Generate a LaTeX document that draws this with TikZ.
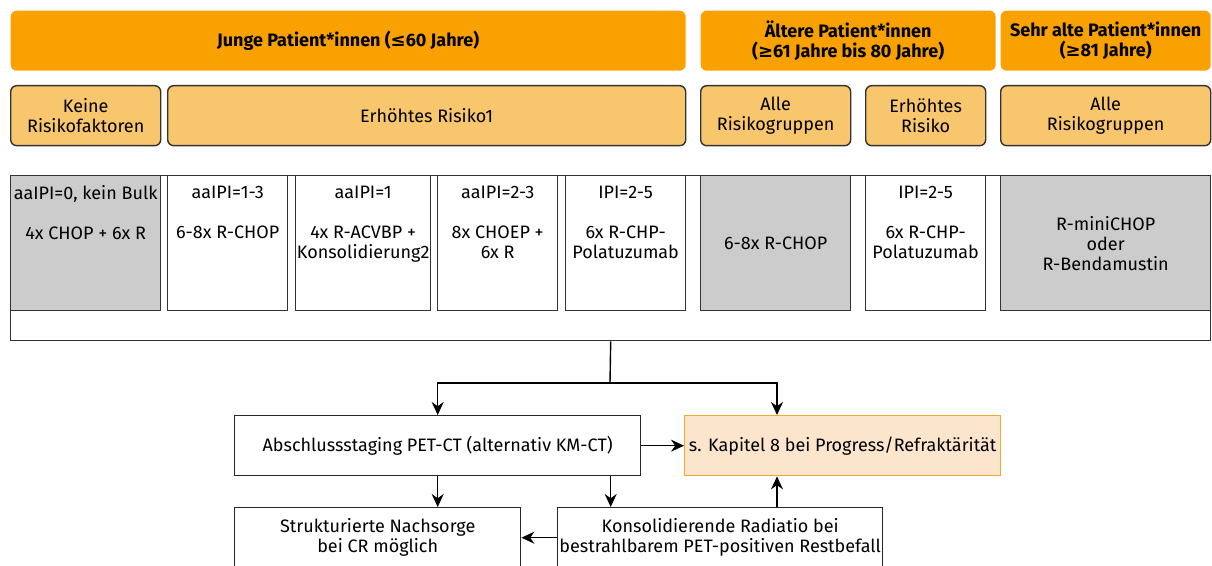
\documentclass[tikz,border=0pt]{standalone}
\usepackage{fontspec}
\setmainfont{Fira Sans}
\newfontfamily\symfont{DejaVu Sans}
\usepackage{tikz}
\usetikzlibrary{arrows.meta, positioning}

\definecolor{ageorange}{RGB}{248,161,0}
\definecolor{riskorange}{RGB}{248,198,108}
\definecolor{cellgrey}{RGB}{204,204,204}
\definecolor{kapfill}{RGB}{252,229,205}
\definecolor{kapline}{RGB}{240,168,48}

\begin{document}
\begin{tikzpicture}[x=0.5pt, y=-0.5pt, line width=0.7pt,
    every node/.style={font=\fontsize{9}{10}\selectfont, align=center},
    wh/.style 2 args={anchor=north west, inner sep=0pt, minimum width=#1*0.5pt, minimum height=#2*0.5pt},
    agebox/.style={fill=ageorange, rounded corners=3pt, font=\fontsize{9}{9.6}\selectfont\bfseries},
    riskbox/.style={fill=riskorange, draw=black!80, rounded corners=3pt},
    cell/.style={draw=black!80, fill=white},
    greycell/.style={cell, fill=cellgrey},
    celltext/.style={anchor=north, inner sep=0pt, yshift=-5pt},
    flowbox/.style={draw=black!85, fill=white},
    arrow/.style={-{Stealth[length=6.5pt, width=6pt]}}]
    \useasboundingbox (0,0) rectangle (1212,566);
    \clip (0,0) rectangle (1212,566);
    % age groups
    \node (jung) [agebox, wh={675}{60}] at (10,10) {Junge Patient*innen ({\symfont ≤}60 Jahre)};
    \node (alt) [agebox, wh={295}{60}] at (700,10) {Ältere Patient*innen\\({\symfont ≥}61 Jahre bis 80 Jahre)};
    \node (sehralt) [agebox, wh={210}{60}] at (1000,10) {Sehr alte Patient*innen\\({\symfont ≥}81 Jahre)};
    % risk groups
    \node (keine) [riskbox, wh={150}{60}] at (10,85) {Keine\\Risikofaktoren};
    \node (erhoeht) [riskbox, wh={518}{60}] at (167,85) {Erhöhtes Risiko1};
    \node (alleA) [riskbox, wh={150}{60}] at (700,85) {Alle\\Risikogruppen};
    \node (erhoehtB) [riskbox, wh={120}{60}] at (865,85) {Erhöhtes\\Risiko};
    \node (alleB) [riskbox, wh={210}{60}] at (1000,85) {Alle\\Risikogruppen};
    % therapies
    \node (frame) [cell, wh={1200}{165}] at (10,175) {};
    \node (t1) [greycell, wh={150}{135}] at (10,175) {};
    \node (t2) [cell, wh={120}{135}] at (167,175) {};
    \node (t3) [cell, wh={135}{135}] at (295,175) {};
    \node (t4) [cell, wh={120}{135}] at (437,175) {};
    \node (t5) [cell, wh={120}{135}] at (565,175) {};
    \node (t6) [greycell, wh={150}{135}] at (700,175) {6-8x R-CHOP};
    \node (t7) [cell, wh={120}{135}] at (865,175) {};
    \node (t8) [greycell, wh={210}{135}] at (1000,175) {R-miniCHOP\\oder\\R-Bendamustin};
    \node (t1txt) [celltext] at (t1.north) {aaIPI=0, kein Bulk\\[10pt]4x CHOP + 6x R};
    \node (t2txt) [celltext] at (t2.north) {aaIPI=1-3\\[10pt]6-8x R-CHOP};
    \node (t3txt) [celltext] at (t3.north) {aaIPI=1\\[10pt]4x R-ACVBP +\\Konsolidierung2};
    \node (t4txt) [celltext] at (t4.north) {aaIPI=2-3\\[10pt]8x CHOEP +\\6x R};
    \node (t5txt) [celltext] at (t5.north) {IPI=2-5\\[10pt]6x R-CHP-\\Polatuzumab};
    \node (t7txt) [celltext] at (t7.north) {IPI=2-5\\[10pt]6x R-CHP-\\Polatuzumab};
    % flow
    \node (staging) [flowbox, wh={406}{60}] at (234,415) {Abschlussstaging PET-CT (alternativ KM-CT)};
    \node (kapitel) [flowbox, wh={316}{60}, fill=kapfill, draw=kapline] at (684,415) {s. Kapitel 8 bei Progress/Refraktärität};
    \node (nachsorge) [flowbox, wh={286}{60}] at (234,507) {Strukturierte Nachsorge\\bei CR möglich};
    \node (radiatio) [flowbox, wh={325}{60}] at (557,507) {Konsolidierende Radiatio bei\\bestrahlbarem PET-positiven Restbefall};
    \coordinate (split) at (610,383);
    \coordinate (kapin) at (777,383);
    \draw (frame.south) -- (split);
    \draw [arrow] (split) -| (staging.north);
    \draw [arrow] (split) -- (kapin) -- (kapin |- kapitel.north);
    \path [arrow]
        (staging.east) edge (kapitel.west)
        (staging.south) edge (staging.south |- nachsorge.north)
        (frame.south |- staging.south) edge (frame.south |- radiatio.north)
        (radiatio.west) edge (nachsorge.east)
        (kapin |- radiatio.north) edge (kapin |- kapitel.south);
\end{tikzpicture}
\end{document}
